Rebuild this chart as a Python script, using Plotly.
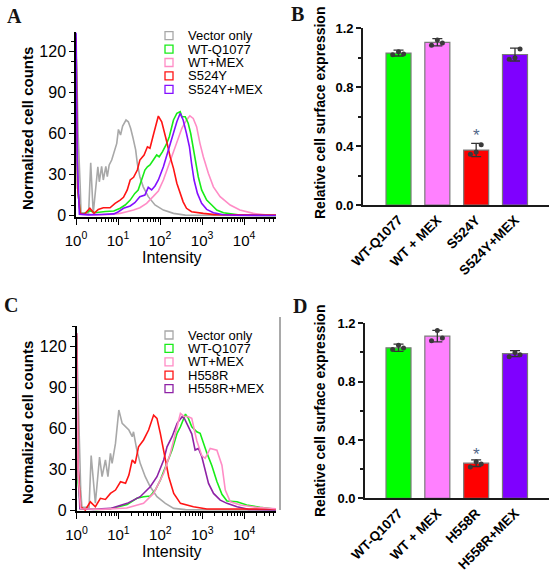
import numpy as np
import plotly.graph_objects as go

W, H = 550, 571

# ---------------- histogram data (log10 intensity, normalized counts) ----------------
# panel A
a_gray_lx = [0, 0.05, 0.10, 0.12, 0.30, 0.35, 0.41, 0.52, 0.555, 0.61, 0.65, 0.71, 0.745, 0.79, 0.85,
             0.905, 0.97, 1.01, 1.06, 1.11, 1.19, 1.245, 1.30, 1.35, 1.42, 1.46, 1.52, 1.60, 1.72, 1.88,
             2.08, 2.32, 2.6, 4.76]
a_gray_y = [133, 60, 21, 2, 1.5, 38.6, 1.6, 35.7, 24.7, 36, 26, 36, 28.4, 37, 40.6,
            45.5, 52.8, 63, 58.9, 65.5, 69.9, 68.6, 63.8, 57.7, 48, 38, 28.4, 21, 13.8, 7.7,
            4, 1.6, 0.3, 0]

a_pink_lx = [0, 0.04, 0.1, 0.5, 0.9, 1.05, 1.21, 1.37, 1.52, 1.68, 1.84, 1.96, 2.08, 2.24, 2.40, 2.52,
             2.63, 2.71, 2.79, 2.87, 2.95, 3.03, 3.15, 3.27, 3.43, 3.67, 3.90, 4.22, 4.5, 4.76]
a_pink_y = [125, 20, 1, 0.5, 1, 1.6, 2.8, 4, 5.7, 8.9, 14, 18, 26, 40, 52.8, 63.8,
            70, 73, 71, 65, 52.8, 43, 30.9, 21, 13.8, 7.7, 4, 1.6, 0.5, 0.2]

a_green_lx = [0, 0.04, 0.1, 0.2, 0.33, 0.45, 0.7, 0.9, 1.05, 1.17, 1.29, 1.40, 1.48, 1.56, 1.64, 1.70,
              1.76, 1.84, 1.92, 1.98, 2.06, 2.16, 2.22, 2.32, 2.40, 2.48, 2.52, 2.60, 2.67, 2.73, 2.79,
              2.86, 2.91, 2.99, 3.11, 3.23, 3.35, 3.51, 3.67, 3.9, 4.76]
a_green_y = [130, 20, 1.5, 1.5, 3.5, 2, 3, 3.3, 5.3, 7.7, 11.3, 16.2, 18.7, 26, 33.3, 35.7,
             37, 40.6, 44.3, 43, 46.7, 52.8, 57.7, 69.9, 74.8, 76, 72.3, 72.3, 67.5, 60, 50.3,
             38.2, 28.4, 18.7, 11.3, 7.7, 4, 2, 1.1, 0.3, 0]

a_purple_lx = [0, 0.03, 0.08, 0.3, 0.6, 0.9, 1.01, 1.13, 1.29, 1.40, 1.52, 1.64, 1.72, 1.80, 1.88, 1.96,
               2.08, 2.20, 2.32, 2.40, 2.48, 2.55, 2.63, 2.70, 2.75, 2.81, 2.89, 2.99, 3.11, 3.27, 3.51,
               3.8, 4.76]
a_purple_y = [134, 40, 1, 0.5, 0.8, 1.2, 2.8, 5.3, 7, 9.4, 13.8, 15, 20.6, 18.7, 21.6, 26,
              35.7, 48, 60, 68.6, 74.8, 69.9, 60, 50.3, 38.2, 26, 16.2, 8.9, 4.5, 2, 0.6,
              0.2, 0]

a_red_lx = [0, 0.04, 0.1, 0.2, 0.33, 0.43, 0.53, 0.65, 0.81, 0.93, 1.05, 1.13, 1.22, 1.29, 1.37, 1.46,
            1.52, 1.62, 1.70, 1.76, 1.85, 1.92, 1.96, 2.04, 2.10, 2.16, 2.24, 2.32, 2.40, 2.48, 2.55,
            2.63, 2.75, 3.03, 3.3, 4.76]
a_red_y = [130, 20, 1.6, 1, 5.3, 1.6, 4.5, 5.7, 5.7, 8.9, 11.3, 13.3, 18.7, 26, 28, 33.3,
           40.6, 44.3, 50.3, 49.2, 60, 67.5, 72.8, 68.6, 62, 54, 43, 34.5, 23.6, 16, 10,
           5.3, 2.8, 1.6, 0.7, 0.3]

# panel C
c_gray_lx = [0, 0.05, 0.1, 0.13, 0.30, 0.35, 0.45, 0.55, 0.61, 0.69, 0.75, 0.81, 0.85, 0.93, 1.01, 1.09,
             1.17, 1.25, 1.33, 1.36, 1.44, 1.52, 1.64, 1.76, 1.92, 2.12, 2.32, 2.6, 4.76]
c_gray_y = [130, 60, 15, 2, 2, 40, 5, 39, 24.5, 36.8, 24.5, 41.7, 34.3, 49, 73.5, 63.7,
            61.2, 58.8, 53.9, 57.5, 44, 34.3, 24.5, 17.1, 9.8, 4.9, 1.2, 0.3, 0]

c_pink_lx = [0, 0.04, 0.1, 0.6, 1.2, 1.60, 1.84, 2.08, 2.24, 2.40, 2.48, 2.56, 2.67, 2.75, 2.87, 2.99,
             3.07, 3.19, 3.35, 3.47, 3.55, 3.67, 3.91, 4.3, 4.76]
c_pink_y = [130, 25, 1, 0.5, 1.5, 4.9, 12.2, 27, 41.7, 60, 71, 69, 68.6, 67.4, 51, 40,
            38, 45.3, 44, 33, 14.7, 6.1, 3.7, 2, 1]

c_green_lx = [0, 0.04, 0.1, 0.5, 0.81, 1.21, 1.44, 1.60, 1.76, 1.88, 2.0, 2.16, 2.28, 2.40, 2.48, 2.60,
              2.67, 2.75, 2.87, 2.95, 3.03, 3.11, 3.23, 3.35, 3.47, 3.59, 3.83, 4.06, 4.38, 4.76]
c_green_y = [128, 20, 1, 0.5, 1, 4, 8.6, 9.8, 10.3, 14.7, 22, 34.3, 44.1, 56.4, 61.2, 70.5,
             67.4, 61.2, 57.5, 56.4, 49, 42, 32.5, 21, 11.6, 6.7, 6.1, 3.7, 2, 0.5]

c_purple_lx = [0, 0.03, 0.08, 0.4, 0.81, 1.21, 1.52, 1.76, 1.92, 2.08, 2.16, 2.28, 2.40, 2.52, 2.58, 2.67,
               2.75, 2.83, 2.91, 2.99, 3.07, 3.15, 3.27, 3.43, 3.59, 3.83, 4.1, 4.76]
c_purple_y = [130, 40, 1, 0.5, 1.2, 4.9, 9.8, 17.1, 24.5, 36.8, 46.5, 53.9, 63.7, 68.6, 67, 61.2,
              56, 44.1, 45.3, 39.2, 29.4, 19.6, 12.2, 7.3, 4.9, 2.4, 0.5, 0]

c_red_lx = [0, 0.04, 0.1, 0.21, 0.33, 0.45, 0.57, 0.69, 0.81, 0.93, 1.05, 1.17, 1.25, 1.33, 1.40, 1.48,
            1.60, 1.72, 1.84, 1.92, 2.0, 2.08, 2.20, 2.32, 2.48, 2.79, 3.11, 4.76]
c_red_y = [130, 30, 2.4, 0, 6, 2.4, 8.6, 7.8, 12.2, 14.7, 20.8, 19.6, 25.7, 36.8, 34.3, 46.5,
           51.5, 58.8, 69.8, 67.4, 56.4, 44.1, 24.5, 12.2, 4.9, 2.4, 0.8, 0.8]

legend_a = ["Vector only", "WT-Q1077", "WT+MEX", "S524Y", "S524Y+MEX"]
legend_c = ["Vector only", "WT-Q1077", "WT+MEX", "H558R", "H558R+MEX"]

# ---------------- bar data ----------------
bars_b = ["WT-Q1077", "WT + MEX", "S524Y", "S524Y+MEX"]
mean_b = [1.032, 1.105, 0.373, 1.022]
err_b = [0.02, 0.025, 0.045, 0.044]
dots_b = [[1.02, 1.04, 1.025], [1.085, 1.12, 1.10], [0.345, 0.36, 0.41], [0.99, 1.0, 1.06]]

bars_d = ["WT-Q1077", "WT + MEX", "H558R", "H558R+MEX"]
mean_d = [1.032, 1.112, 0.241, 0.992]
err_d = [0.025, 0.04, 0.023, 0.02]
dots_d = [[1.02, 1.05, 1.03], [1.08, 1.15, 1.10], [0.215, 0.25, 0.235], [0.97, 1.0, 0.985]]

jitter = [-0.15, 0.0, 0.13]

GRAY, GREEN, PINK, RED = "#a8a8a8", "#18ec18", "#ff8cc6", "#ff1414"
PURPLE_A, PURPLE_C = "#8410ff", "#8e22a6"
bar_colors = ["#00ff00", "#ff80ff", "#ff0000", "#7f00ff"]

FONT = "Arial, Liberation Sans, sans-serif"


def xd(a, b):
    return [a / W, b / W]


def yd(top, bottom):
    return [1 - bottom / H, 1 - top / H]


fig = go.Figure()

# legend order of each panel (gray, green, pink, red, purple)
hist_a = [(a_gray_lx, a_gray_y, GRAY), (a_green_lx, a_green_y, GREEN), (a_pink_lx, a_pink_y, PINK),
          (a_red_lx, a_red_y, RED), (a_purple_lx, a_purple_y, PURPLE_A)]
hist_c = [(c_gray_lx, c_gray_y, GRAY), (c_green_lx, c_green_y, GREEN), (c_pink_lx, c_pink_y, PINK),
          (c_red_lx, c_red_y, RED), (c_purple_lx, c_purple_y, PURPLE_C)]

# drawing order (last on top)
draw_a = [0, 2, 1, 3, 4]
draw_c = [0, 1, 4, 3, 2]

for curves, order, ax in [(hist_a, draw_a, ""), (hist_c, draw_c, "3")]:
    for k in order:
        lx, yy, col = curves[k]
        fig.add_trace(go.Scatter(
            x=10 ** np.array(lx), y=yy, mode="lines",
            line=dict(color=col, width=1.6),
            xaxis="x" + ax, yaxis="y" + ax, showlegend=False, hoverinfo="skip",
        ))

for names, means, errs, dots, ax in [(bars_b, mean_b, err_b, dots_b, "2"), (bars_d, mean_d, err_d, dots_d, "4")]:
    pos = np.arange(len(names))
    fig.add_trace(go.Bar(
        x=pos, y=means, width=0.644,
        marker=dict(color=bar_colors, line=dict(color="#7a7a7a", width=1.2)),
        error_y=dict(type="data", array=errs, color="#333333", thickness=1.3, width=5),
        xaxis="x" + ax, yaxis="y" + ax, showlegend=False,
    ))
    for i, pts in enumerate(dots):
        fig.add_trace(go.Scatter(
            x=[pos[i] + j for j in jitter], y=pts, mode="markers",
            marker=dict(color="#3a3a3a", size=5),
            xaxis="x" + ax, yaxis="y" + ax, showlegend=False,
        ))

# ---------------- axes ----------------
decades = [1, 10, 100, 1000, 10000]
dec_text = ["10<sup>%d</sup>" % i for i in range(5)]
minor_vals = [k * 10 ** d for d in range(5) for k in range(2, 10)]


def hist_x(domain, anchor):
    return dict(domain=domain, type="log", range=[0, 4.76], tickvals=decades, ticktext=dec_text,
                ticks="outside", ticklen=6, tickwidth=1.2, tickcolor="black", ticklabelstandoff=3,
                minor=dict(tickvals=minor_vals, ticks="outside", ticklen=3, tickcolor="black", tickwidth=1),
                showline=True, linecolor="black", linewidth=1.5, showgrid=False, zeroline=False,
                tickfont=dict(size=15, color="black", family=FONT), anchor=anchor, automargin=False)


def hist_y(domain, top, anchor):
    return dict(domain=domain, range=[-1, top], tickvals=[0, 30, 60, 90, 120],
                ticks="outside", ticklen=5, tickwidth=1.2, tickcolor="black",
                minor=dict(dtick=7.5, ticks="outside", ticklen=3, tickcolor="black"),
                showline=True, linecolor="black", linewidth=1.5, showgrid=False, zeroline=False,
                tickfont=dict(size=16, color="black", family=FONT), anchor=anchor, automargin=False)


def bar_x(domain, left, names, anchor):
    return dict(domain=domain, range=[left, 3.876], tickvals=list(range(len(names))),
                ticktext=["<b>%s</b>" % n for n in names], tickangle=-45, ticks="",
                showline=True, linecolor="#1a1a1a", linewidth=1.6, showgrid=False, zeroline=False,
                tickfont=dict(size=13.5, color="black", family=FONT), anchor=anchor, automargin=False)


def bar_y(domain, anchor):
    return dict(domain=domain, range=[0, 1.2], tickvals=[0, 0.4, 0.8, 1.2],
                ticktext=["<b>0.0</b>", "<b>0.4</b>", "<b>0.8</b>", "<b>1.2</b>"],
                ticks="outside", ticklen=5, tickwidth=1.5, tickcolor="#1a1a1a",
                minor=dict(tickvals=[0.2, 0.6, 1.0], ticks="outside", ticklen=3, tickcolor="#1a1a1a"),
                showline=True, linecolor="#1a1a1a", linewidth=1.6, showgrid=False, zeroline=False,
                tickfont=dict(size=13, color="black", family=FONT), anchor=anchor, automargin=False)


fig.update_layout(
    width=W, height=H, margin=dict(l=0, r=0, t=0, b=0, pad=0), autosize=False,
    paper_bgcolor="white", plot_bgcolor="white", showlegend=False,
    font=dict(family=FONT, color="black"),
    xaxis=hist_x(xd(76, 276), "y"),
    yaxis=hist_y(yd(32.4, 216.9), 134, "x"),
    xaxis3=hist_x(xd(76.5, 276), "y3"),
    yaxis3=hist_y(yd(326.4, 511.4), 135, "x3"),
    xaxis2=bar_x(xd(363, 549), -0.915, bars_b, "y2"),
    yaxis2=bar_y(yd(28.3, 205), "x2"),
    xaxis4=bar_x(xd(365, 549), -0.863, bars_d, "y4"),
    yaxis4=bar_y(yd(323.3, 498.3), "x4"),
)

annotations = []
shapes = []


def paper_text(text, x, y, size, angle=0, bold=False, family=FONT, xanchor="center", color="black"):
    annotations.append(dict(
        text="<b>%s</b>" % text if bold else text, x=x / W, y=1 - y / H, xref="paper", yref="paper",
        showarrow=False, textangle=angle, xanchor=xanchor, yanchor="middle",
        font=dict(size=size, family=family, color=color),
    ))


# panel letters
for letter, x, y in [("A", 14, 16), ("B", 297, 14), ("C", 11, 305), ("D", 300, 306)]:
    paper_text(letter, x, y, 20, bold=True, family="Liberation Serif, Times New Roman, serif", color="#141414")

# axis titles
paper_text("Normalized cell counts", 27, 129, 15, angle=-90, bold=True)
paper_text("Normalized cell counts", 27, 423, 15, angle=-90, bold=True)
paper_text("Intensity", 172, 257, 16)
paper_text("Intensity", 172, 551, 16)
paper_text("Relative cell surface expression", 320, 113, 14, angle=-90, bold=True)
paper_text("Relative cell surface expression", 320, 411, 14, angle=-90, bold=True)

# legends (hollow squares + labels)
for names, curves, top in [(legend_a, hist_a, 35.7), (legend_c, hist_c, 335)]:
    for i, name in enumerate(names):
        col = curves[i][2]
        yc = top + i * 13.4
        shapes.append(dict(type="rect", xref="paper", yref="paper",
                           x0=165 / W, x1=173 / W, y0=1 - (yc + 4) / H, y1=1 - (yc - 4) / H,
                           line=dict(color=col, width=1.3), fillcolor="rgba(0,0,0,0)"))
        paper_text(name, 186, yc, 13, xanchor="left")

# right frame line of panel C
shapes.append(dict(type="line", xref="paper", yref="paper", x0=280 / W, x1=280 / W,
                   y0=1 - 510 / H, y1=1 - 317 / H, line=dict(color="#555555", width=1)))

# significance marks
annotations.append(dict(text="*", x=2, y=0.475, xref="x2", yref="y2", showarrow=False,
                        font=dict(size=17, color="#51688a")))
annotations.append(dict(text="*", x=2, y=0.30, xref="x4", yref="y4", showarrow=False,
                        font=dict(size=17, color="#51688a")))

fig.update_layout(annotations=annotations, shapes=shapes)

# drop the page's default body margin so the figure fills the window exactly
fig.write_html("out.html", config={"displayModeBar": False},
               post_script="document.body.style.margin='0';")
